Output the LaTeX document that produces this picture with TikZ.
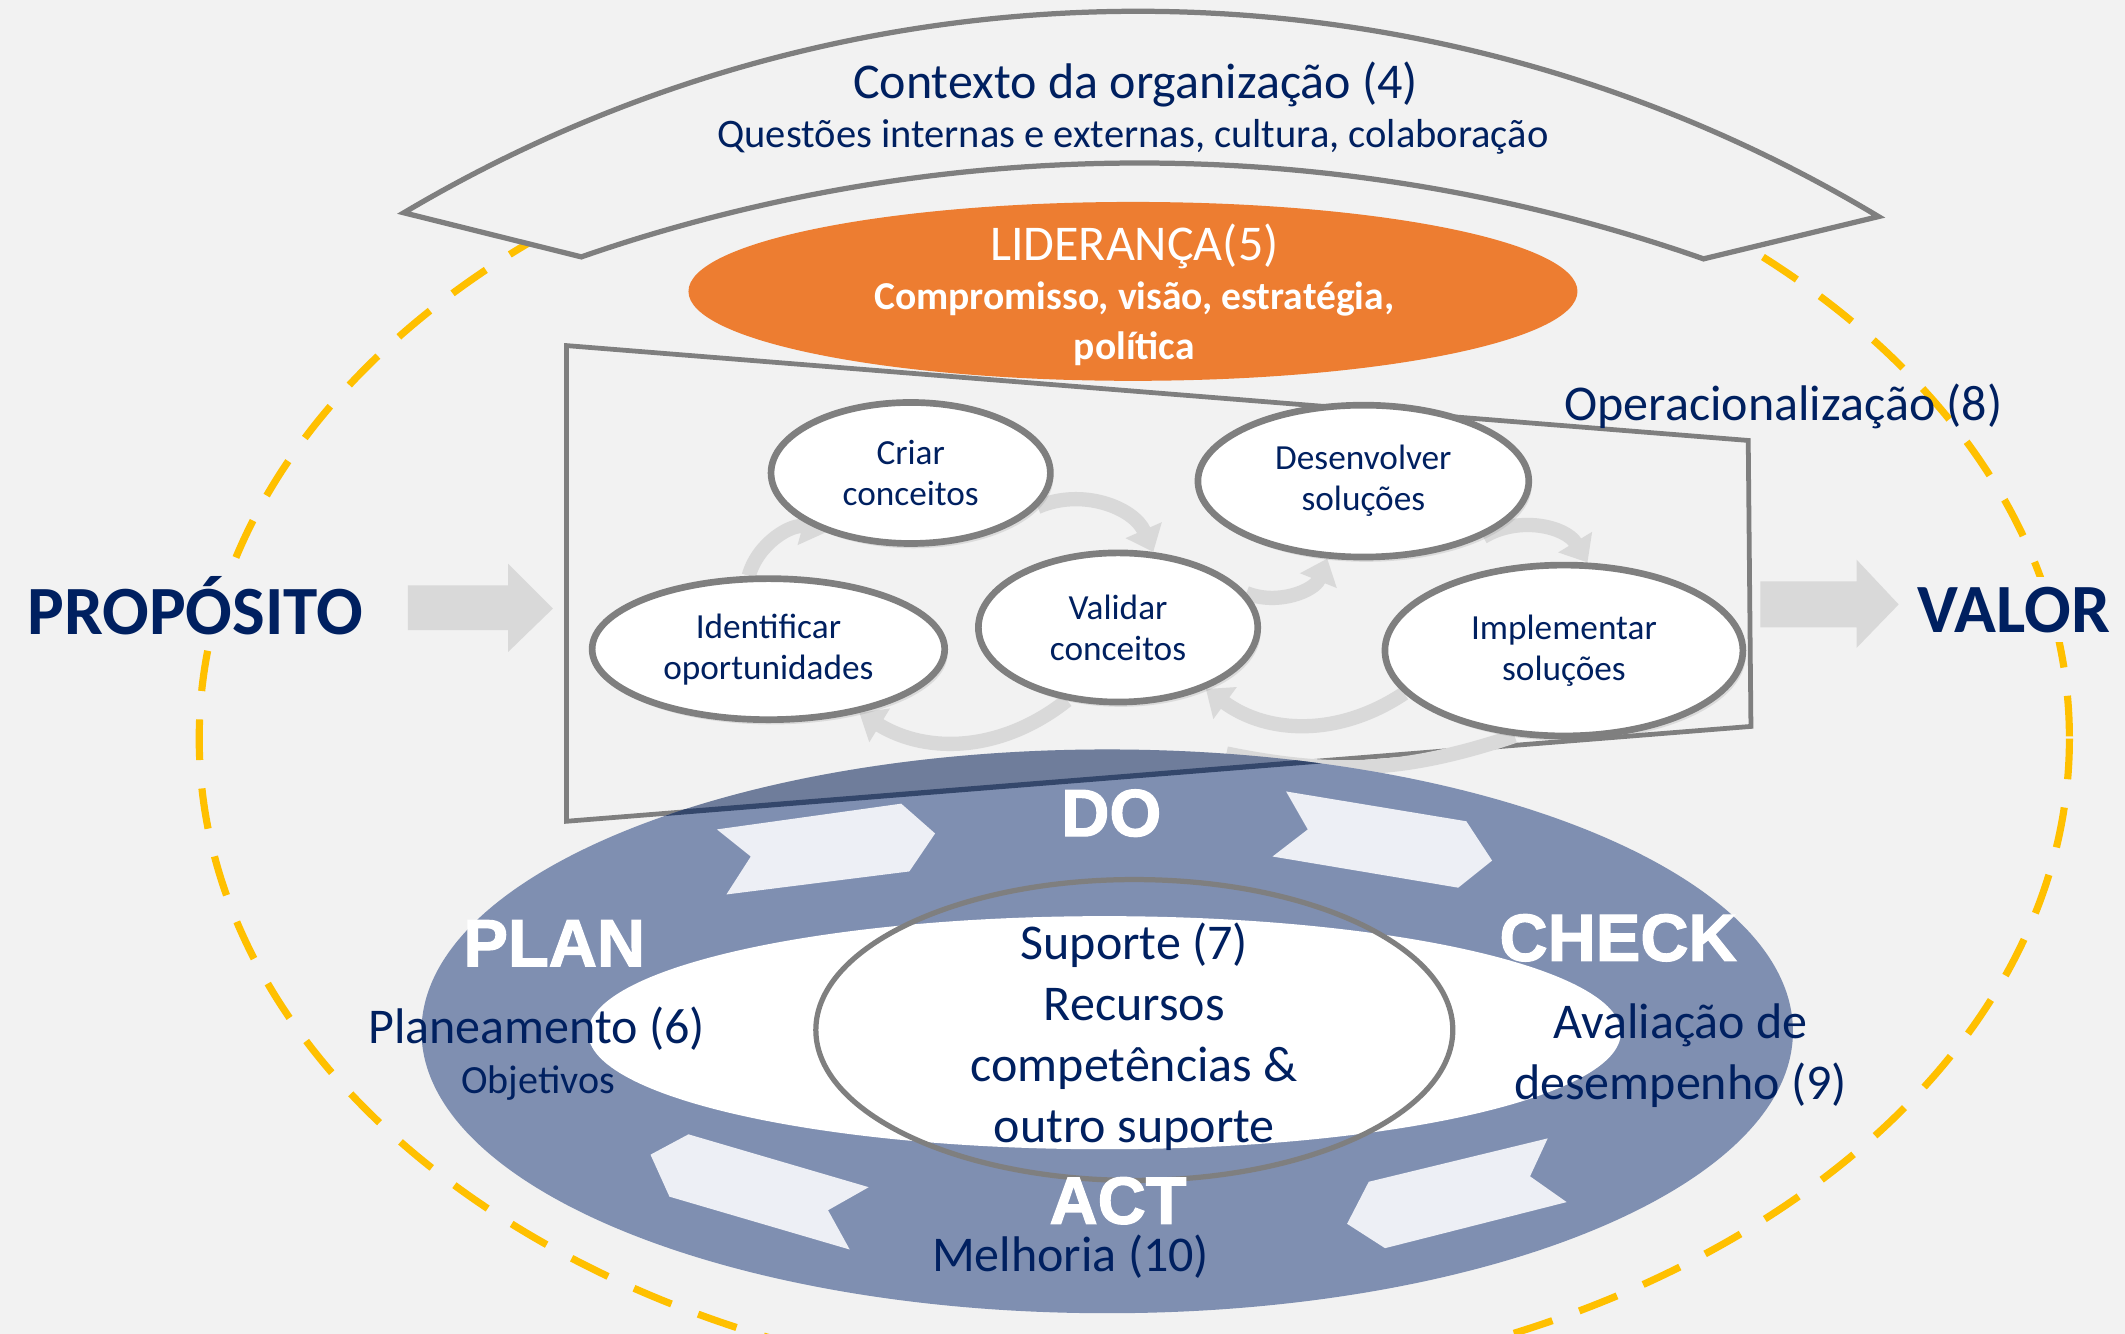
\documentclass[tikz,border=0pt]{standalone}
\usepackage{fontspec}
\setmainfont{Carlito}
\newfontfamily\pdcafont[UprightFont=* Bold, FakeBold=1.8]{Liberation Sans}
\usetikzlibrary{calc,shapes.geometric,arrows.meta,shadows}

\definecolor{navy}{HTML}{002060}
\definecolor{bggray}{HTML}{F2F2F2}
\definecolor{liner}{HTML}{7F7F7F}
\definecolor{orangelead}{HTML}{ED7D31}
\definecolor{pdcablue}{HTML}{7F8FB1}
\definecolor{darkline}{HTML}{34476B}
\definecolor{dashyellow}{HTML}{FFC000}
\definecolor{arrowgray}{HTML}{D9D9D9}
\definecolor{chevron}{HTML}{EDEFF5}

\pgfdeclarelayer{bottom}
\pgfdeclarelayer{mid}
\pgfsetlayers{bottom,mid,main}

\tikzset{
  txt/.style={text=navy, align=center, inner sep=0pt, font=\fontsize{10.5}{12.8}\selectfont},
  small/.style={text=navy, align=center, inner sep=0pt, font=\fontsize{8.5}{10}\selectfont},
  lidtxt/.style={text=white, align=center, inner sep=0pt, font=\bfseries\fontsize{8.3}{10.5}\selectfont},
  big/.style={text=navy, fill=bggray, inner sep=2pt, font=\bfseries\fontsize{14.5}{14.5}\selectfont},
  pdca/.style={text=white, inner sep=0pt, font=\pdcafont\fontsize{14}{14}\selectfont},
  stage/.style={ellipse, draw=liner, line width=1.4pt, fill=white, text=navy, align=center,
    inner sep=0pt, font=\fontsize{7.4}{8.6}\selectfont,
    drop shadow={opacity=.2, shadow xshift=.6pt, shadow yshift=-1pt}},
  cyc/.style={arrowgray, line width=3pt, -{Triangle[width=8pt, length=5pt]}},
  ring/.style={dashyellow, line width=1.5pt, dash pattern=on .3cm off .21cm},
  band/.style={liner, line width=1.1pt, fill=bggray},
  frame/.style={liner, line width=1pt},
  chev/.style={fill=chevron},
}

\begin{document}
\begin{tikzpicture}[x=0.01cm, y=-0.01cm]
\useasboundingbox (0,0) rectangle (1568,984);

\begin{pgfonlayer}{bottom}
  \fill[bggray] (0,0) rectangle (1568,984);
  \draw[ring] (837,545) ellipse [x radius=690, y radius=480];
  \draw[band] (298,157) arc [start angle=-120.7, end angle=-59, radius=1061]
    -- (1257,191) arc [start angle=-70.7, end angle=-109.1, radius=1259] -- cycle;
  \fill[orangelead] (836,215) ellipse [x radius=328, y radius=66];
  \fill[arrowgray] (301,432) -- (375,432) -- (375,416) -- (408,449) -- (375,481) -- (375,465) -- (301,465) -- cycle;
  \fill[arrowgray] (1299,429) -- (1370,429) -- (1370,413) -- (1401,446) -- (1370,478) -- (1370,463) -- (1299,463) -- cycle;
  \draw[frame] (418,255) coordinate (tl) -- (1290,325) coordinate (tr)
    -- (1292,536) coordinate (br) -- (418,606) coordinate (bl) -- cycle;
\end{pgfonlayer}

\node[txt] (ctxtitle) at (838,62) {Contexto da organização (4)};
\node[small] (ctxsub) at (836,101) {Questões internas e externas, cultura, colaboração};
\node[txt, text=white] (lidtitle) at (837,182) {LIDERANÇA(5)};
\node[lidtxt] (lidsub) at (837,239) {Compromisso, visão, estratégia,\\política};
\node[txt] (opera) at (1316,300) {Operacionalização (8)};
\node[big] (proposito) at (144,447) {PROPÓSITO};
\node[big] (valor) at (1486,450) {VALOR};

\node[stage, minimum width=2.06cm, minimum height=1.04cm] (criar) at (672,349) {Criar\\conceitos};
\node[stage, minimum width=2.44cm, minimum height=1.12cm] (desenv) at (1006,355) {Desenvolver\\soluções};
\node[stage, minimum width=2.60cm, minimum height=1.04cm] (ident) at (567,479) {Identificar\\oportunidades};
\node[stage, minimum width=2.06cm, minimum height=1.10cm] (valid) at (825,463) {Validar\\conceitos};
\node[stage, minimum width=2.64cm, minimum height=1.26cm] (implem) at (1154,480) {Implementar\\soluções};

\coordinate (swoosh) at (905,556);
\begin{pgfonlayer}{mid}
  \draw[cyc] (ident.105) to[bend left=45] (criar.215);
  \draw[cyc] (criar.-15) to[bend left=45] (valid.65);
  \draw[cyc] (valid.235) to[bend left=35] (ident.-35);
  \draw[cyc] (valid.15) to[bend right=45] (desenv.245);
  \draw[cyc] (desenv.-25) to[bend left=45] (implem.75);
  \draw[cyc] (implem.195) to[bend left=35] (valid.-35);
  \draw[arrowgray, line width=3pt] (implem.240) to[bend left=15] (swoosh);
\end{pgfonlayer}

\fill[pdcablue] (817,761) ellipse [x radius=506, y radius=208];
\begin{scope}
  \clip (817,761) ellipse [x radius=506, y radius=208];
  \fill[black, opacity=.12] (tl) -- (tr) -- (br) -- (bl) -- cycle;
  \draw[darkline, line width=1.1pt] (bl) -- (br);
\end{scope}
\fill[white] (815,762) ellipse [x radius=381, y radius=86];

\fill[chev] (529,612) -- (665,593) -- (690,615) -- (671,643) -- (536,660) -- (554,632) -- cycle;
\fill[chev] (949,584) -- (1082,606) -- (1101,635) -- (1076,655) -- (939,632) -- (965,612) -- cycle;
\fill[chev] (1142,840) -- (1129,868) -- (1156,887) -- (1022,921) -- (994,903) -- (1010,872) -- cycle;
\fill[chev] (641,876) -- (611,893) -- (627,922) -- (494,883) -- (480,852) -- (508,837) -- cycle;

\draw[liner, line width=1.1pt] (837,760) ellipse [x radius=235, y radius=111];

\node[pdca] (do) at (820,600) {DO};
\node[pdca] (plan) at (409,696) {PLAN};
\node[pdca] (check) at (1194,692) {CHECK};
\node[pdca] (act) at (825,886) {ACT};

\node[txt] (plano) at (396,759) {Planeamento (6)};
\node[txt, font=\fontsize{8.4}{10}\selectfont] (objet) at (397,799) {Objetivos};
\node[txt] (suporte) at (837,765) {Suporte (7)\\Recursos\\competências \&\\outro suporte};
\node[txt] (aval) at (1240,779) {Avaliação de\\desempenho (9)};
\node[txt] (melhoria) at (790,927) {Melhoria (10)};
\end{tikzpicture}
\end{document}
